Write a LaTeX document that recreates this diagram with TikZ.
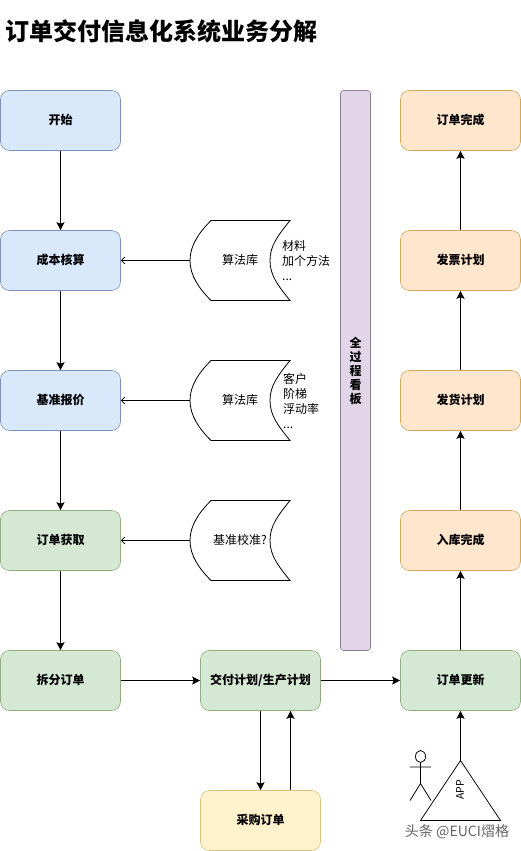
\documentclass[tikz,border=0pt]{standalone}
\usepackage{fontspec}
\setmainfont{Noto Sans CJK SC}
\usetikzlibrary{arrows.meta,shapes.geometric}
\definecolor{bluef}{HTML}{DAE8FC}\definecolor{blued}{HTML}{7C93B5}
\definecolor{greenf}{HTML}{D5E8D4}\definecolor{greend}{HTML}{8FAE80}
\definecolor{orangef}{HTML}{FFE6CC}\definecolor{oranged}{HTML}{D2A85C}
\definecolor{yellowf}{HTML}{FFF2CC}\definecolor{yellowd}{HTML}{D9C37A}
\definecolor{purplef}{HTML}{E1D5E7}\definecolor{purpled}{HTML}{8E7A99}
\tikzset{
  x=1pt,y=-1pt,
  box/.style={draw,rounded corners=9pt,minimum width=120pt,minimum height=60pt,inner sep=0pt,line width=.6pt,text height=11pt,text depth=3.8pt,font=\fontsize{12}{14}\selectfont\bfseries},
  bluebox/.style={box,fill=bluef,draw=blued},
  greenbox/.style={box,fill=greenf,draw=greend},
  orangebox/.style={box,fill=orangef,draw=oranged},
  yellowbox/.style={box,fill=yellowf,draw=yellowd},
  conn/.style={draw=black,line width=.9pt,-{Stealth[length=8pt,width=8pt,inset=1.5pt]}},
  barbconn/.style={draw=black,line width=.8pt,-{Straight Barb[length=3.5pt,width=7pt,line width=.7pt]}},
  stor/.style={draw=black,line width=.8pt},
  lib/.style={inner sep=0pt,minimum width=100pt,minimum height=80pt,text height=11pt,text depth=3.8pt,font=\fontsize{12}{14}\selectfont},
  note/.style={inner sep=0pt,align=left,anchor=west,font=\fontsize{12}{15.3}\selectfont},
}
\newcommand{\storshape}[2]{\draw[stor] (#1+21,#2-40) -- (#1+100,#2-40) .. controls (#1+88,#2-25) and (#1+80,#2-15) .. (#1+80,#2) .. controls (#1+80,#2+15) and (#1+88,#2+25) .. (#1+100,#2+40) -- (#1+21,#2+40) .. controls (#1+9,#2+28) and (#1,#2+15) .. (#1,#2) .. controls (#1,#2-15) and (#1+9,#2-28) .. (#1+21,#2-40) -- cycle;}
\begin{document}
\begin{tikzpicture}
\useasboundingbox (0,0) rectangle (521,851);
\fill[white] (0,0) rectangle (521,851);
\node[anchor=west,inner sep=0pt,font=\fontsize{24}{28}\selectfont\bfseries] (title) at (5,31) {订单交付信息化系统业务分解};

\node[bluebox] (start) at (60.5,120.5) {开始};
\node[bluebox] (cost) at (60.5,260.5) {成本核算};
\node[bluebox] (quote) at (60.5,400.5) {基准报价};
\node[greenbox] (order) at (60.5,540.5) {订单获取};
\node[greenbox] (split) at (60.5,680.5) {拆分订单};
\node[greenbox] (plan) at (260.5,680.5) {交付计划/生产计划};
\node[yellowbox] (buy) at (260.5,820.5) {采购订单};
\node[greenbox] (update) at (460.5,680.5) {订单更新};
\node[orangebox] (stock) at (460.5,540.5) {入库完成};
\node[orangebox] (ship) at (460.5,400.5) {发货计划};
\node[orangebox] (inv) at (460.5,260.5) {发票计划};
\node[orangebox] (done) at (460.5,120.5) {订单完成};

\node[draw=purpled,fill=purplef,line width=.6pt,rounded corners=3pt,minimum width=30pt,minimum height=560pt,inner sep=0pt,align=center,font=\fontsize{12}{14}\selectfont\bfseries] (board) at (355.5,370.5) {全\\过\\程\\看\\板};

\storshape{190}{260.5}
\storshape{190}{400.5}
\storshape{190}{540.5}
\node[lib] (lib1) at (240,260.5) {算法库};
\node[lib] (lib2) at (240,400.5) {算法库};
\node[lib] (lib3) at (240,540.5) {基准校准?};
\node[note] (n1) at (282,260.5) {材料\\加个方法\\...};
\node[note] (n2) at (283,401) {客户\\阶梯\\浮动率\\...};

\draw[conn] (start) -- (cost);
\draw[conn] (cost) -- (quote);
\draw[conn] (quote) -- (order);
\draw[conn] (order) -- (split);
\draw[conn] (split) -- (plan);
\draw[conn] (plan) -- (update);
\draw[conn] (update) -- (stock);
\draw[conn] (stock) -- (ship);
\draw[conn] (ship) -- (inv);
\draw[conn] (inv) -- (done);
\draw[barbconn] (lib1.west) -- (cost);
\draw[barbconn] (lib2.west) -- (quote);
\draw[barbconn] (lib3.west) -- (order);
\draw[conn] (plan.south) -- (buy.north);
\draw[conn] ([xshift=30pt]buy.north) -- ([xshift=30pt]plan.south);

\coordinate (apexpos) at (460.5,760.5);
\draw[stor,fill=white] (apexpos) -- (500.5,820.5) -- (420.5,820.5) -- cycle;
\node[rotate=90,inner sep=0pt,font=\fontsize{10.5}{12}\selectfont] (app) at (460,790) {APP};
\draw[conn] (apexpos) -- (update);

\node[draw=black,line width=.8pt,ellipse,minimum width=10pt,minimum height=12pt,inner sep=0pt] (head) at (420.5,756.5) {};
\coordinate (hip) at (420.5,783.5);
\draw[stor] (head) -- (hip) (410,767) -- (431,767) (hip) -- (410,800.5) (hip) -- (431,800.5);

\node[anchor=east,inner sep=0pt,text=black!60,font=\fontsize{14.1}{16}\selectfont] (wm) at (509.5,831.5) {头条 @EUCI熠格};
\end{tikzpicture}
\end{document}
